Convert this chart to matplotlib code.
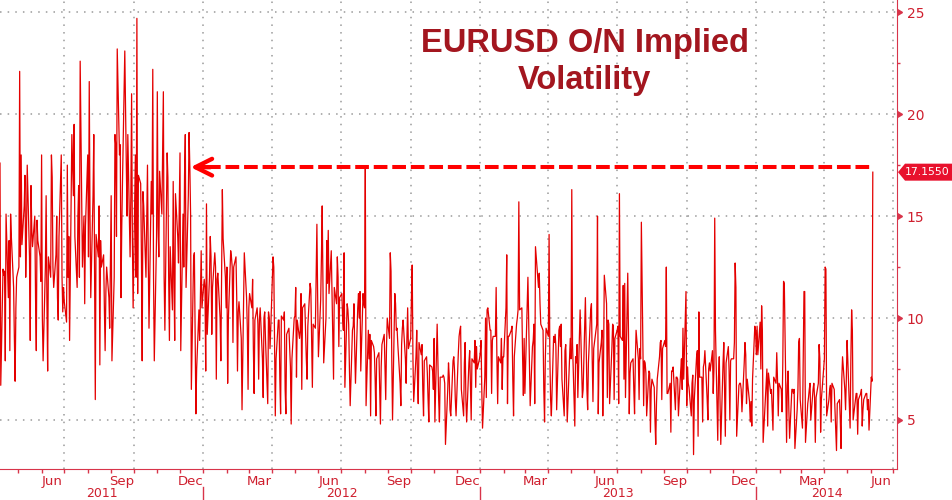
import matplotlib
matplotlib.use('Agg')
import matplotlib.pyplot as plt
import matplotlib.dates as mdates
import matplotlib.markers as mmarkers
import matplotlib.transforms as mtransforms
from matplotlib.patches import Polygon
from matplotlib.ticker import NullFormatter
import pandas as pd

# EURUSD overnight implied vol, daily (business days)
vol_2011 = [
    17.6, 6.7, 12.4, 12.1, 12.3, 7.9, 15.1, 11.0, 13.8, 8.4, 15.1, 14.0, 11.5, 9.0, 6.9, 10.5, 12.0,  # Apr
    12.5, 22.1, 13.0, 18.0, 13.6, 15.5, 17.0, 12.0, 14.0, 17.5, 13.0, 8.9, 16.5, 14.4, 13.5, 15.0, 11.0, 8.4, 14.8, 13.8, 13.0, 11.8,  # May
    18.0, 10.0, 7.9, 12.5, 16.0, 11.0, 7.4, 13.0, 12.0, 18.0, 16.9, 12.5, 11.5, 13.1, 15.0, 11.0, 9.9, 14.0, 18.0, 12.0, 10.3, 11.5,  # Jun
    10.8, 9.8, 17.5, 12.0, 14.0, 8.9, 19.0, 17.5, 16.0, 19.5, 14.0, 11.5, 15.0, 16.5, 12.0, 22.6, 12.5, 13.7, 15.0, 10.7, 14.5,  # Jul
    18.0, 13.0, 21.6, 15.0, 11.0, 16.0, 19.0, 12.0, 6.0, 14.1, 13.0, 15.5, 7.7, 13.8, 12.5, 13.1, 10.5, 8.4, 11.3, 12.5, 11.0, 9.5, 13.0,  # Aug
    16.0, 7.9, 12.0, 19.0, 18.5, 14.0, 23.2, 18.0, 18.5, 11.0, 14.5, 16.8, 23.1, 20.1, 17.5, 15.0, 19.0, 13.0, 16.0, 21.0, 14.0, 10.5,  # Sep
    18.0, 12.0, 24.7, 11.2, 17.0, 16.6, 13.0, 7.9, 16.2, 15.5, 12.0, 14.9, 17.5, 13.0, 9.5, 16.7, 15.1, 22.2, 12.0, 7.9, 14.0,  # Oct
    21.1, 14.5, 13.0, 17.2, 15.1, 18.0, 21.1, 12.0, 9.4, 18.1, 16.9, 12.0, 8.9, 13.5, 10.4, 16.7, 12.0, 8.9, 16.1, 14.0, 12.7, 15.5,  # Nov
    18.1, 8.4, 15.1, 12.5, 17.0, 19.0, 11.5, 16.0, 19.1, 17.4, 15.1, 6.5, 13.0, 13.2, 9.0, 5.3, 7.5, 10.4, 8.9, 11.0, 13.3, 10.5,  # Dec
]
vol_2012 = [
    11.9, 11.5, 7.4, 15.6, 9.2, 12.0, 14.0, 13.0, 9.2, 11.5, 13.2, 12.5, 7.0, 11.9, 12.2, 10.0, 7.9, 12.0, 16.3, 13.9, 12.0, 10.5,  # Jan
    12.5, 6.8, 10.0, 13.3, 13.0, 12.5, 8.8, 12.5, 13.0, 11.0, 7.4, 10.3, 10.8, 9.0, 5.5, 8.0, 10.3, 13.2, 11.0, 9.5, 6.5,  # Feb
    10.5, 11.2, 10.5, 11.9, 8.5, 6.3, 9.9, 10.5, 9.7, 7.0, 9.9, 10.5, 8.0, 6.1, 10.0, 10.3, 9.0, 5.8, 10.3, 10.0, 8.5, 9.5,  # Mar
    13.0, 12.5, 9.0, 5.2, 8.0, 9.9, 9.9, 7.0, 5.3, 10.1, 9.9, 10.3, 6.5, 5.3, 9.2, 9.5, 8.5, 7.6, 4.8, 8.0, 10.0,  # Apr
    10.1, 11.5, 7.1, 9.9, 9.0, 9.4, 11.2, 6.5, 10.5, 10.7, 9.4, 8.0, 7.0, 9.6, 11.7, 11.4, 9.0, 6.6, 9.7, 9.5, 12.0, 14.6, 11.0,  # May
    8.1, 10.9, 13.0, 15.5, 11.5, 7.8, 10.0, 13.8, 11.7, 14.3, 11.2, 13.3, 11.1, 9.0, 7.0, 11.5, 10.7, 13.0, 12.0, 8.6, 11.0,  # Jun
    11.2, 10.0, 9.4, 13.2, 6.6, 10.7, 10.4, 9.7, 7.5, 5.7, 9.4, 9.6, 10.7, 8.5, 6.8, 10.5, 11.2, 10.0, 11.3, 7.4, 11.2, 10.7,  # Jul
    10.5, 17.4, 5.7, 9.4, 8.0, 9.2, 5.2, 8.9, 8.6, 8.3, 7.0, 5.2, 8.0, 8.3, 6.5, 4.8, 7.6, 8.7, 9.2, 7.5, 6.0, 8.5, 10.0,  # Aug
    9.0, 13.2, 12.3, 8.0, 5.0, 11.2, 10.7, 9.4, 9.5, 8.7, 6.8, 5.7, 8.7, 9.5, 9.9, 8.0, 6.8, 9.0, 10.5, 8.5,  # Sep
    9.0, 11.0, 12.6, 8.0, 5.9, 8.1, 9.4, 7.0, 5.8, 8.8, 8.2, 8.7, 6.5, 5.2, 7.9, 8.1, 7.3, 6.0, 4.9, 7.7, 7.6, 7.4, 6.5,  # Oct
    9.0, 4.9, 9.7, 7.8, 6.0, 4.9, 7.1, 7.1, 7.2, 7.1, 6.8, 3.8, 6.5, 7.8, 7.1, 5.5, 5.2, 7.9, 8.1, 7.4, 6.0, 5.2,  # Nov
    8.3, 9.1, 9.4, 9.6, 6.5, 5.2, 7.8, 8.8, 6.0, 4.9, 7.8, 8.4, 6.8, 5.0, 8.0, 7.8, 8.9, 6.6, 8.6, 7.5, 8.0,  # Dec
]
vol_2013 = [
    8.3, 8.9, 6.5, 4.6, 7.1, 10.0, 6.1, 10.4, 10.5, 9.4, 9.4, 6.3, 8.9, 9.1, 9.1, 11.5, 8.0, 5.8, 8.1, 7.8, 9.0, 6.5, 8.1,  # Jan
    8.1, 10.5, 13.1, 5.8, 9.1, 9.1, 9.4, 9.6, 7.0, 5.2, 8.1, 9.7, 10.0, 10.4, 15.7, 10.4, 10.5, 8.0, 6.2, 9.0,  # Feb
    6.3, 10.5, 12.0, 9.9, 7.5, 5.7, 8.6, 8.9, 9.7, 5.8, 13.5, 12.0, 11.5, 12.2, 10.7, 9.7, 9.4, 6.5, 4.9, 8.0, 9.5,  # Mar
    9.1, 14.1, 8.1, 6.0, 5.2, 9.1, 8.8, 9.2, 8.6, 5.5, 9.4, 9.6, 8.6, 9.7, 7.0, 5.2, 8.4, 8.7, 7.0, 4.9, 8.0, 9.0,  # Apr
    8.0, 16.3, 8.7, 4.7, 8.1, 7.8, 8.7, 6.1, 10.4, 9.1, 7.5, 6.1, 6.5, 11.0, 8.7, 6.5, 5.5, 7.8, 10.4, 10.7, 8.0, 5.9, 8.5,  # May
    9.4, 9.7, 15.0, 5.3, 7.8, 8.8, 9.4, 5.2, 7.8, 12.1, 10.7, 6.1, 9.9, 9.7, 5.8, 8.5, 9.7, 9.6, 6.0, 9.0,  # Jun
    9.4, 9.6, 5.8, 16.1, 9.1, 8.9, 11.6, 7.0, 11.7, 6.1, 12.2, 9.2, 5.3, 7.3, 7.8, 8.0, 6.5, 5.3, 7.8, 9.4, 8.0, 6.0, 8.5,  # Jul
    8.0, 14.7, 5.7, 7.9, 7.8, 7.3, 5.2, 7.4, 7.3, 4.4, 6.5, 7.0, 6.6, 5.0, 3.8, 5.8, 7.0, 8.1, 8.8, 8.9, 6.0, 8.5,  # Aug
    8.9, 8.6, 12.5, 6.3, 6.3, 6.8, 4.4, 7.4, 7.4, 7.6, 5.5, 7.1, 7.1, 7.0, 5.2, 7.4, 8.0, 6.5, 9.5, 7.0, 11.3,  # Sep
    5.7, 7.6, 6.8, 6.6, 5.2, 6.8, 7.2, 3.3, 6.0, 8.1, 8.4, 4.2, 10.3, 7.1, 7.1, 4.9, 7.6, 7.8, 8.4, 6.0, 5.0, 7.5, 7.8,  # Oct
    7.4, 8.4, 6.3, 7.5, 14.9, 9.4, 4.0, 7.1, 8.1, 6.0, 3.8, 7.8, 8.8, 6.5, 4.2, 7.8, 8.6, 7.4, 5.0, 7.9, 8.0,  # Nov
    8.0, 8.8, 12.7, 11.5, 4.2, 6.7, 6.8, 6.8, 6.5, 5.4, 7.8, 8.8, 8.2, 5.8, 7.0, 5.9, 4.9, 5.9, 4.7, 7.0, 9.6, 9.4,  # Dec
]
vol_2014 = [
    8.2, 9.6, 8.2, 9.8, 7.5, 10.6, 9.4, 3.9, 6.1, 6.8, 7.5, 4.7, 7.3, 6.3, 6.5, 5.5, 4.5, 7.1, 6.8, 8.3, 7.0, 5.2, 6.8,  # Jan
    6.5, 5.4, 7.8, 11.8, 11.7, 3.9, 6.7, 7.4, 5.5, 4.1, 6.5, 6.5, 6.3, 6.5, 3.6, 5.5, 6.5, 8.8, 9.0, 6.0,  # Feb
    4.6, 8.0, 11.3, 11.3, 3.9, 5.8, 6.1, 6.5, 6.8, 5.0, 6.5, 6.8, 6.1, 3.9, 6.1, 6.8, 8.7, 8.0, 4.4, 6.0, 7.5,  # Mar
    8.0, 12.5, 12.4, 5.2, 6.0, 6.5, 6.7, 4.9, 6.8, 6.5, 5.5, 4.5, 3.5, 5.8, 6.0, 5.0, 3.6, 7.0, 8.1, 6.5, 5.5, 7.0,  # Apr
    8.9, 7.9, 4.6, 8.0, 10.4, 9.4, 5.0, 6.0, 6.3, 6.3, 4.3, 6.0, 6.3, 6.5, 4.7, 5.5, 6.0, 6.3, 6.3, 5.5, 6.0, 4.5,  # May
    7.1, 6.9, 17.155,  # Jun
]
year_starts = ['2011-04-07', '2012-01-02', '2013-01-01', '2014-01-01']
year_values = [vol_2011, vol_2012, vol_2013, vol_2014]

# style
LINE_RED = '#e40000'
ARROW_RED = '#ff0000'
AXIS_RED = '#d8344a'
TEXT_RED = '#cf1f2e'
TITLE_RED = '#a3161f'
GRID_GREY = '#9a9a9a'
X_START = pd.Timestamp('2011-04-07')
X_END = pd.Timestamp('2014-07-06')
ARROW_TIP = pd.Timestamp('2011-12-15')
ARROW_LEVEL = 17.4

dates = []
values = []
for start, vals in zip(year_starts, year_values):
    dates += list(pd.bdate_range(start, periods=len(vals)))
    values += vals
last_val = values[-1]

fig = plt.figure(figsize=(9.52, 5), dpi=100)
ax = fig.add_axes([0, 0.0614, 897 / 952, 1 - 0.0614])

ax.plot(dates, values, color=LINE_RED, lw=0.9, zorder=3)

ax.set_xlim(X_START, X_END)
ax.set_ylim(2.58, 25.6)

# grid
for q in pd.date_range('2011-04-01', '2014-07-01', freq='QS'):
    if X_START < q < X_END:
        ax.axvline(q, color=GRID_GREY, lw=1.1, ls=(0, (1, 4)), zorder=1)
for yv in [5, 10, 15, 20, 25]:
    ax.axhline(yv, color=GRID_GREY, lw=1.1, ls=(0, (1, 4)), zorder=1)

# spines
for s in ['left', 'top']:
    ax.spines[s].set_visible(False)
ax.spines['right'].set_color(AXIS_RED)
ax.spines['bottom'].set_color(AXIS_RED)

# y axis on the right
ax.yaxis.tick_right()
ax.set_yticks([5, 10, 15, 20, 25])
ax.set_yticks([7.5, 12.5, 17.5, 22.5], minor=True)
ax.tick_params(axis='y', which='major', length=4, width=1, colors=AXIS_RED,
               labelcolor=TEXT_RED, labelsize=10, pad=3)
ax.tick_params(axis='y', which='minor', length=2.5, width=1, colors=AXIS_RED)
for t in ax.yaxis.get_major_ticks():
    t.tick2line.set_marker(mmarkers.CARETRIGHTBASE)
    t.tick2line.set_markersize(5)
    t.tick2line.set_markerfacecolor(AXIS_RED)

# x axis: month ticks, quarter-end month names, years below
ax.xaxis.set_major_locator(mdates.MonthLocator())
ax.xaxis.set_major_formatter(NullFormatter())
ax.xaxis.set_minor_locator(mdates.MonthLocator(bymonth=[3, 6, 9, 12], bymonthday=15))
ax.xaxis.set_minor_formatter(mdates.DateFormatter('%b'))
ax.tick_params(axis='x', which='major', length=3, width=1, colors=AXIS_RED, direction='out')
ax.tick_params(axis='x', which='minor', length=0, labelsize=9.5, labelcolor=TEXT_RED, pad=4)

xtrans = ax.get_xaxis_transform()
for yr in [2011, 2012, 2013, 2014]:
    a = max(pd.Timestamp(f'{yr}-01-01'), X_START)
    b = min(pd.Timestamp(f'{yr + 1}-01-01'), X_END)
    ax.text(a + (b - a) / 2, -0.051, str(yr), transform=xtrans, ha='center', va='center',
            color=TEXT_RED, fontsize=9)
    if yr > 2011:
        ax.plot([a, a], [-0.038, -0.07], transform=xtrans, color=AXIS_RED, lw=1, clip_on=False)

# dashed arrow back to the Dec 2011 level
ax.plot([ARROW_TIP + pd.Timedelta(days=22), dates[-1]], [ARROW_LEVEL, ARROW_LEVEL],
        color=ARROW_RED, lw=2.9, ls=(0, (3.4, 1.2)), zorder=4, solid_capstyle='butt')
ax.annotate('', xy=(ARROW_TIP, ARROW_LEVEL), xytext=(ARROW_TIP + pd.Timedelta(days=26), ARROW_LEVEL),
            arrowprops=dict(arrowstyle='->,head_length=1.2,head_width=0.6', lw=3.1, color=ARROW_RED,
                            shrinkA=0, shrinkB=0), zorder=4)

# last value badge
tr = fig.dpi_scale_trans + mtransforms.ScaledTranslation(1, last_val, ax.get_yaxis_transform())
badge = Polygon([(0.01, 0), (0.08, 0.085), (0.7, 0.085), (0.7, -0.085), (0.08, -0.085)],
                closed=True, transform=tr, facecolor='#e8112d', edgecolor='none', clip_on=False)
ax.add_patch(badge)
ax.text(0.08, 0, f'{last_val:.4f}', transform=tr, ha='left', va='center', color='white',
        fontsize=7.8, clip_on=False)

# title
fig.text(0.614, 0.876, 'EURUSD O/N Implied\nVolatility', ha='center', va='center',
         fontsize=23.5, fontweight='bold', color=TITLE_RED, family='Liberation Sans',
         linespacing=1.25)

fig.savefig('out.png', dpi=100)
